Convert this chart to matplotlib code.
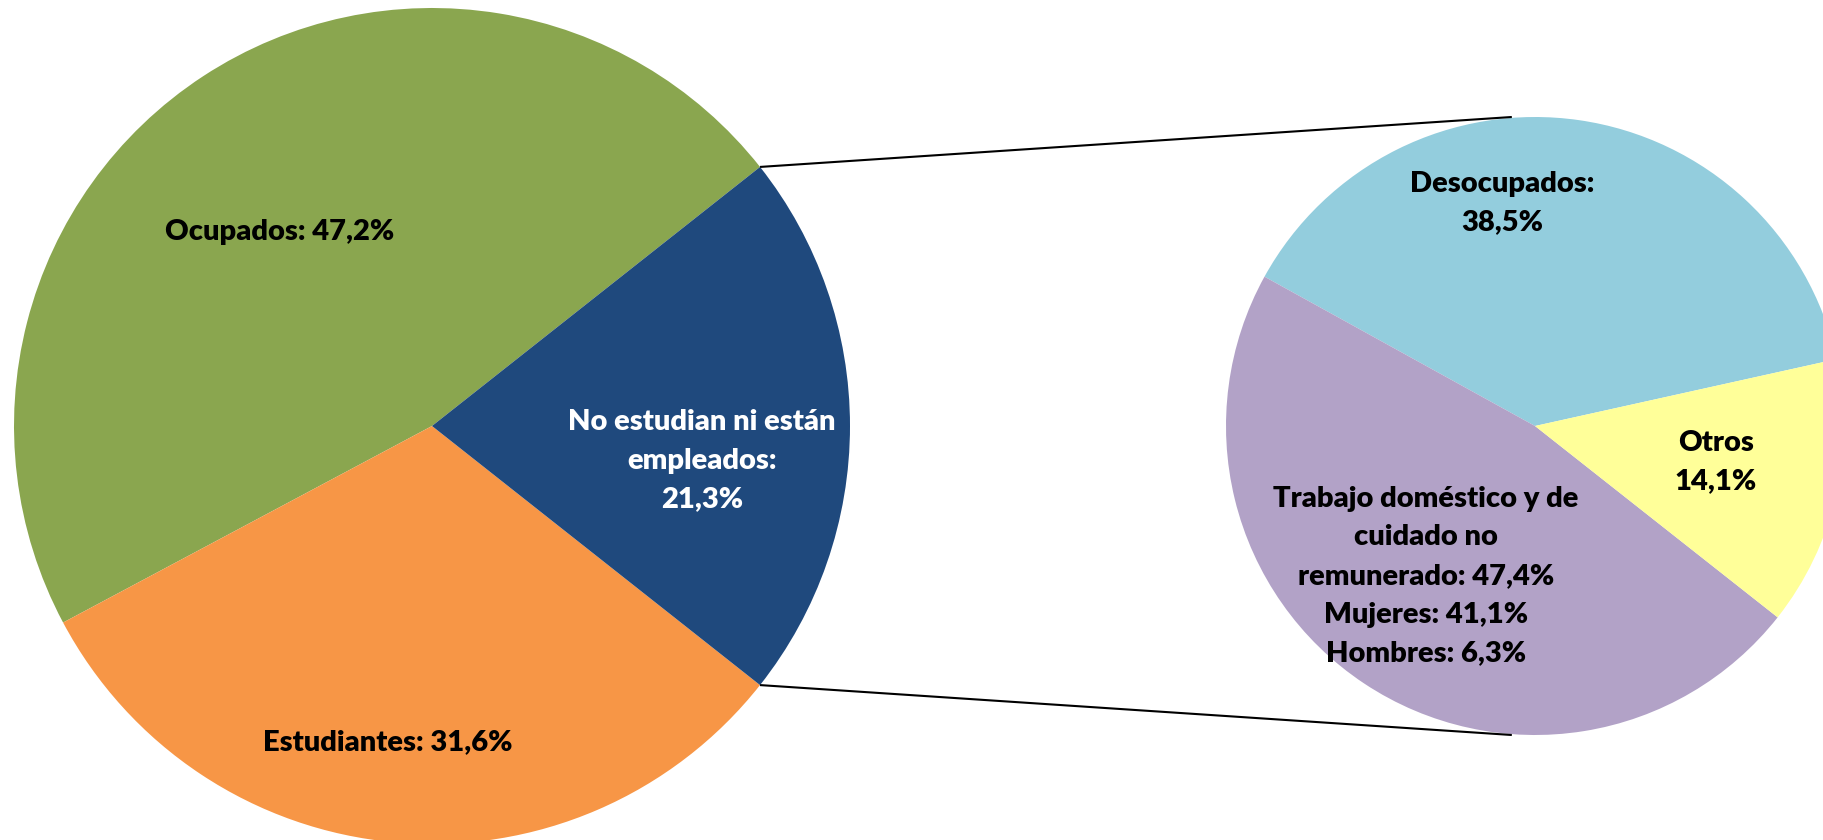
import matplotlib.pyplot as plt
import numpy as np

# Distribución de jóvenes por condición de actividad
main_labels = ["Ocupados", "Estudiantes", "No estudian ni están\nempleados"]
main_values = [47.2, 31.6, 21.3]
main_colors = ["#8AA64F", "#F79646", "#1F497D"]

# Desglose de los que no estudian ni están empleados
sub_labels = ["Desocupados", "Trabajo doméstico y de\ncuidado no\nremunerado", "Otros"]
sub_values = [38.5, 47.4, 14.1]
sub_colors = ["#93CDDD", "#B2A2C7", "#FFFF99"]
sexo_labels = ["Mujeres", "Hombres"]
sexo_values = [41.1, 6.3]


def pct(v):
    return f"{v:.1f}".replace(".", ",") + "%"


plt.rcParams["font.family"] = ["Lato", "DejaVu Sans"]

W, H = 1824, 840
fig = plt.figure(figsize=(W / 100, H / 100), dpi=100)
ax = fig.add_axes([0, 0, 1, 1])

# --- pastel principal ---
c1, r1 = (432, 414), 418
w1, _ = ax.pie(main_values, colors=main_colors, startangle=38.3, center=c1,
               radius=r1, counterclock=True, wedgeprops=dict(linewidth=0))

# --- pastel secundario ---
c2, r2 = (1535, 414), 309
w2, _ = ax.pie(sub_values, colors=sub_colors, startangle=12.5, center=c2,
               radius=r2, counterclock=True, wedgeprops=dict(linewidth=0))

# líneas de conexión desde los bordes del sector "No estudian"
blue = w1[2]
for ang, sign in [(blue.theta2, 1), (blue.theta1, -1)]:
    a = np.radians(ang)
    x0 = c1[0] + r1 * np.cos(a)
    y0 = c1[1] + r1 * np.sin(a)
    x1 = c2[0] - 0.075 * r2
    y1 = c2[1] + sign * r2
    ax.plot([x0, x1], [y0, y1], color="black", lw=1.5, solid_capstyle="butt")

# etiquetas (posiciones en píxeles desde arriba)
fs = 21
ls = 1.6
kw = dict(ha="center", va="center", fontsize=fs, fontweight="heavy", linespacing=ls)
ax.text(280, H - 232, f"{main_labels[0]}: {pct(main_values[0])}", color="black", **kw)
ax.text(388, H - 742, f"{main_labels[1]}: {pct(main_values[1])}", color="black", **kw)
ax.text(702, H - 461, f"{main_labels[2]}:\n{pct(main_values[2])}", color="white", **kw)

ax.text(1502, H - 203, f"{sub_labels[0]}:\n{pct(sub_values[0])}", color="black", **kw)
ax.text(1716, H - 462, f"{sub_labels[2]}\n{pct(sub_values[2])}", color="black", **kw)
trabajo = (f"{sub_labels[1]}: {pct(sub_values[1])}\n"
           f"{sexo_labels[0]}: {pct(sexo_values[0])}\n"
           f"{sexo_labels[1]}: {pct(sexo_values[1])}")
ax.text(1426, H - 576, trabajo, color="black", **kw)

ax.set_xlim(0, W)
ax.set_ylim(0, H)
ax.set_aspect("equal")
ax.axis("off")

fig.savefig("out.png", dpi=100, facecolor="white")
